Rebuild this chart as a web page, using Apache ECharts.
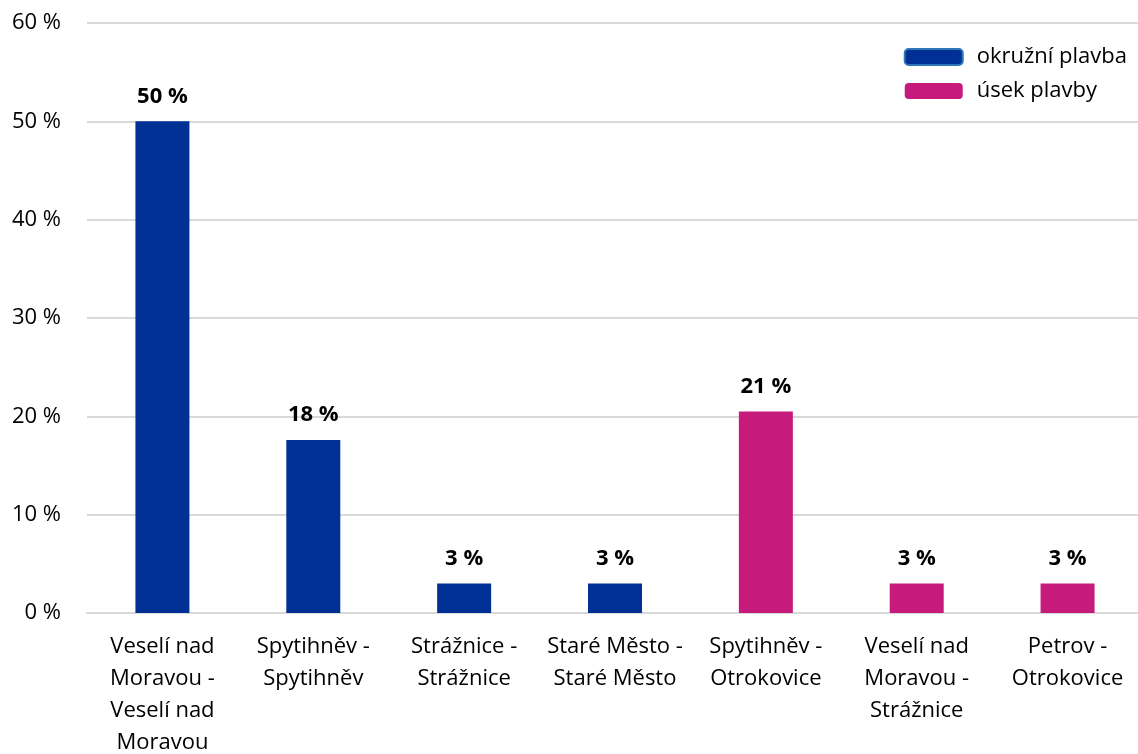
<!DOCTYPE html>
<html>
<head>
<meta charset="utf-8">
<script src="https://cdn.jsdelivr.net/npm/echarts@6/dist/echarts.min.js"></script>
<style>
html,body{margin:0;padding:0;background:#fff;}
#chart{width:1138px;height:754px;}
</style>
</head>
<body>
<div id="chart"></div>
<script>
var categories = [
    'Veselí nad\nMoravou -\nVeselí nad\nMoravou',
    'Spytihněv -\nSpytihněv',
    'Strážnice -\nStrážnice',
    'Staré Město -\nStaré Město',
    'Spytihněv -\nOtrokovice',
    'Veselí nad\nMoravou -\nStrážnice',
    'Petrov -\nOtrokovice'
];
var okruzni = [50, 17.6, 3, 3, '-', '-', '-'];
var usek = ['-', '-', '-', '-', 20.5, 3, 3];
var yTicks = [0, 10, 20, 30, 40, 50, 60];

var font = '"Open Sans", "Noto Sans", sans-serif';
var myChart = echarts.init(document.getElementById('chart'));

function pctLabel(p) {
    return Math.round(p.value) + ' %';
}

var labelStyle = {
    show: true,
    position: 'top',
    distance: 14,
    formatter: pctLabel,
    color: '#000',
    fontSize: 22,
    fontWeight: 'bold',
    fontFamily: font
};

var option = {
    animation: false,
    backgroundColor: '#fff',
    grid: {
        left: 87,
        right: -5,
        top: 23,
        bottom: 141,
        outerBoundsMode: 'none'
    },
    legend: {
        orient: 'vertical',
        right: 6,
        top: 41,
        itemWidth: 58,
        itemHeight: 16,
        itemGap: 12,
        selectedMode: false,
        textStyle: {
            color: '#000',
            fontSize: 22,
            fontFamily: font,
            padding: [0, 0, 0, 9]
        },
        data: [
            {name: 'okružní plavba', itemStyle: {borderColor: '#2e75b6', borderWidth: 2}},
            {name: 'úsek plavby'}
        ]
    },
    xAxis: {
        type: 'category',
        data: categories,
        axisLine: {lineStyle: {color: '#d9d9d9', width: 2}},
        axisTick: {show: false},
        axisLabel: {
            interval: 0,
            color: '#000',
            fontSize: 22,
            lineHeight: 32,
            fontFamily: font,
            margin: 18
        }
    },
    yAxis: {
        type: 'value',
        min: yTicks[0],
        max: yTicks[yTicks.length - 1],
        interval: 10,
        axisLine: {show: false},
        axisTick: {show: false},
        splitLine: {lineStyle: {color: '#d9d9d9', width: 2}},
        axisLabel: {
            color: '#000',
            fontSize: 22,
            fontFamily: font,
            margin: 26,
            formatter: '{value} %'
        }
    },
    series: [
        {
            name: 'okružní plavba',
            type: 'bar',
            stack: 'all',
            barWidth: 54,
            data: okruzni,
            itemStyle: {color: '#003094'},
            label: labelStyle
        },
        {
            name: 'úsek plavby',
            type: 'bar',
            stack: 'all',
            barWidth: 54,
            data: usek,
            itemStyle: {color: '#c71b7c'},
            label: labelStyle
        }
    ]
};

myChart.setOption(option);
</script>
</body>
</html>
